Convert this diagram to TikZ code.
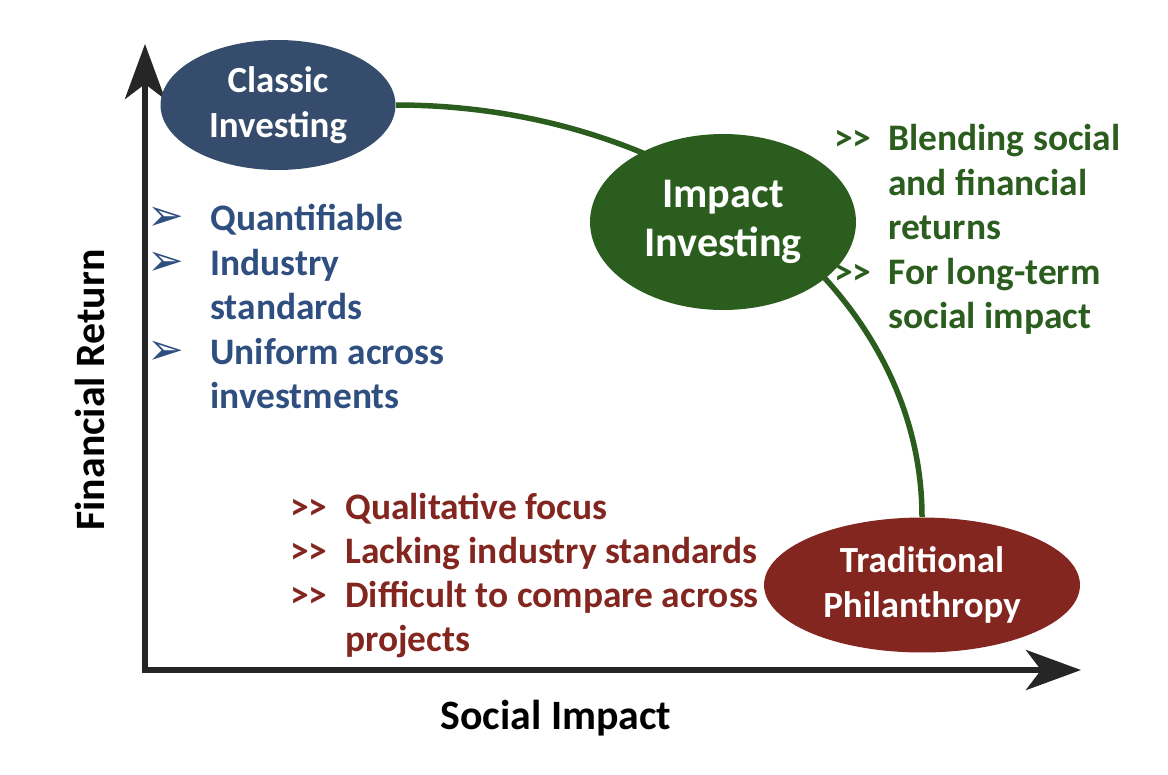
\documentclass[tikz,border=0pt]{standalone}
\usepackage{fontspec}
\setmainfont{Carlito}
\newfontfamily\symfont{DejaVu Sans}
\usetikzlibrary{arrows.meta,shapes.geometric}

\definecolor{classicblue}{HTML}{354C6D}
\definecolor{listblue}{HTML}{2F4F80}
\definecolor{impactgreen}{HTML}{2B5E1E}
\definecolor{philred}{HTML}{83261F}

\newcommand{\bigtxt}{\fontsize{21.3}{25.5}\selectfont\bfseries}
\newcommand{\blobtxt}{\fontsize{21}{25.5}\selectfont\bfseries}
\newcommand{\hugetxt}{\fontsize{24}{27.5}\selectfont\bfseries}
\newcommand{\axistxt}{\fontsize{23.8}{26}\selectfont\bfseries}
\newcommand{\chev}{>\kern-0.5pt>}

\tikzset{
  axis/.style={line width=0.12cm, color=black!85, {Stealth[length=1.1cm,width=0.8cm,inset=0.3cm]}-{Stealth[length=1.1cm,width=0.8cm,inset=0.3cm]}},
  blob/.style={ellipse, inner sep=0pt, text=white, align=center},
  curve/.style={line width=0.11cm, impactgreen},
  bluetxt/.style={anchor=base west, inner xsep=0pt, text=listblue, font=\bigtxt},
  greentxt/.style={anchor=base west, inner xsep=0pt, text=impactgreen, font=\bigtxt},
  redtxt/.style={anchor=base west, inner xsep=0pt, text=philred, font=\bigtxt},
  arrowbullet/.style={bluetxt, font=\symfont\fontsize{25}{26}\selectfont},
}

\begin{document}
\begin{tikzpicture}[x=0.02cm, y=-0.02cm]
        \useasboundingbox (0,0) rectangle (1168,774);
        % Axes
        \coordinate (ytip) at (145,44);
        \coordinate (origin) at (145,670);
        \coordinate (xtip) at (1081,670);
        \draw[axis] (ytip) -- (origin) -- (xtip);
        \node[font=\axistxt, rotate=90] (fin) at (90,390) {Financial Return};
        \node[font=\axistxt] (soc) at (556,718) {Social Impact};
        % Ellipses
        \node[blob, fill=classicblue, minimum width=4.7cm, minimum height=2.6cm, font=\blobtxt] (classic) at (278,105) {Classic\\Investing};
        \node[blob, fill=philred, minimum width=6.32cm, minimum height=2.7cm, font=\blobtxt] (trad) at (922,585) {Traditional\\Philanthropy};
        \draw[curve] (classic.east) .. controls +(291,0) and +(0,-228) .. (trad.north);
        \node[blob, fill=impactgreen, minimum width=5.32cm, minimum height=3.52cm, font=\hugetxt] (impact) at (723,222) {Impact\\Investing};
        % Classic investing list
        \node[arrowbullet] (cb1) at (147,230) {➢};
        \node[arrowbullet] (cb2) at (147,275) {➢};
        \node[arrowbullet] (cb3) at (147,364) {➢};
        \node[bluetxt] (cl1) at (210,230) {Quantifiable};
        \node[bluetxt] (cl2) at (210,275) {Industry};
        \node[bluetxt] (cl3) at (210,319) {standards};
        \node[bluetxt] (cl4) at (210,364) {Uniform across};
        \node[bluetxt] (cl5) at (210,408) {investments};
        % Impact investing list
        \node[greentxt] (gb1) at (834,150) {\chev};
        \node[greentxt] (gb2) at (834,284) {\chev};
        \node[greentxt] (gl1) at (888,150) {Blending social};
        \node[greentxt] (gl2) at (888,195) {and financial};
        \node[greentxt] (gl3) at (888,239) {returns};
        \node[greentxt] (gl4) at (888,284) {For long-term};
        \node[greentxt] (gl5) at (888,328) {social impact};
        % Philanthropy list
        \node[redtxt] (rb1) at (290,519) {\chev};
        \node[redtxt] (rb2) at (290,563) {\chev};
        \node[redtxt] (rb3) at (290,607) {\chev};
        \node[redtxt] (rl1) at (345,519) {Qualitative focus};
        \node[redtxt] (rl2) at (345,563) {Lacking industry standards};
        \node[redtxt] (rl3) at (345,607) {Difficult to compare across};
        \node[redtxt] (rl4) at (345,651) {projects};
\end{tikzpicture}
\end{document}
